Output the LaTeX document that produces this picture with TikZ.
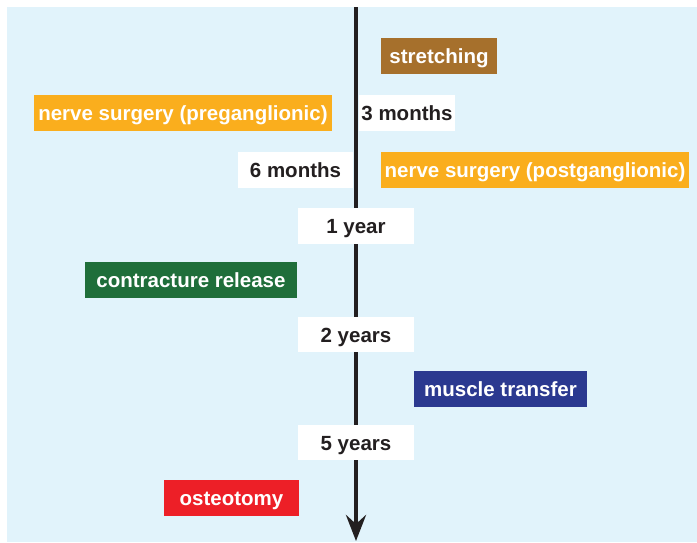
\documentclass[tikz,border=0pt]{standalone}
\usepackage{fontspec}
\setmainfont{Liberation Sans}
\usetikzlibrary{arrows.meta}
\definecolor{sky}{HTML}{E1F3FB}
\definecolor{ink}{HTML}{231F20}
\definecolor{brown}{HTML}{A6702C}
\definecolor{amber}{HTML}{FAAE1D}
\definecolor{forest}{HTML}{1F6E3A}
\definecolor{navy}{HTML}{2B3990}
\definecolor{scarlet}{HTML}{ED1F27}

\begin{document}
\begin{tikzpicture}[
  x=1pt, y=-1pt,
  font=\fontsize{20.5}{24}\selectfont\bfseries,
  timeline/.style={-{Stealth[length=26pt, width=20pt, inset=9pt]}, line width=4.5pt, draw=ink},
  tick/.style={fill=white, text=ink, inner sep=0pt, minimum height=36pt,
               text height=18pt, text depth=2.6pt},
  treat/.style={text=white, inner sep=0pt, minimum height=36pt,
                text height=18pt, text depth=2.6pt}
]
\useasboundingbox (0,0) rectangle (697,542);
\fill[sky] (7,7) rectangle (697,542);

% time axis
\coordinate (start) at (356,7);
\coordinate (end) at (356,541);
\draw[timeline] (start) -- (end);

% time marks
\node[tick, minimum width=96pt] (m3) at (407,113) {3 months};
\node[tick, minimum width=115pt] (m6) at (295.5,170) {6 months};
\node[tick, minimum width=116pt] (y1) at (356,226) {1 year};
\node[tick, minimum width=116pt, minimum height=35pt] (y2) at (356,334.5) {2 years};
\node[tick, minimum width=116pt, minimum height=35pt] (y5) at (356,442.5) {5 years};

% treatments
\node[treat, fill=brown, minimum width=116pt] (stretch) at (439,56) {stretching};
\node[treat, fill=amber, minimum width=298pt] (pre) at (183,113) {nerve surgery (preganglionic)};
\node[treat, fill=amber, minimum width=308pt] (post) at (535,170) {nerve surgery (postganglionic)};
\node[treat, fill=forest, minimum width=212pt] (release) at (191,280) {contracture release};
\node[treat, fill=navy, minimum width=173pt] (transfer) at (500.5,389) {muscle transfer};
\node[treat, fill=scarlet, minimum width=135pt] (osteo) at (231.5,498) {osteotomy};

\end{tikzpicture}
\end{document}
